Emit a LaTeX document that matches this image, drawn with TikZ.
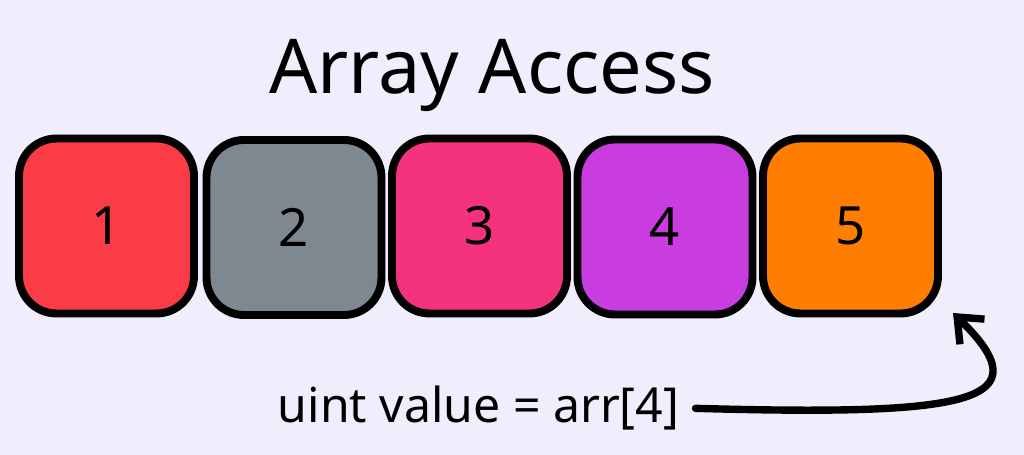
\documentclass[tikz,border=0pt]{standalone}
\usepackage{fontspec}
\setmainfont{Noto Sans}
\usetikzlibrary{positioning,arrows.meta}

\definecolor{bgpaper}{HTML}{F0EEFC}
\definecolor{cellred}{HTML}{F93C46}
\definecolor{cellgray}{HTML}{7E8891}
\definecolor{cellpink}{HTML}{F5327E}
\definecolor{cellpurple}{HTML}{C83CE0}
\definecolor{cellorange}{HTML}{FF7D00}

\begin{document}
\begin{tikzpicture}[
  cell/.style={draw=black, line width=4.5pt, rounded corners=0.75cm, minimum width=3.5cm, minimum height=3.5cm, font=\fontsize{30}{36}\selectfont, inner sep=0pt},
  title/.style={font=\fontsize{43}{50}\selectfont, inner sep=0pt},
  codetxt/.style={font=\fontsize{27.4}{32}\selectfont, inner sep=2pt},
  sketcharrow/.style={draw=black, line cap=round, line join=round, -{Straight Barb[length=12pt,width=20pt]}}
]
\fill[bgpaper] (0,0) rectangle (20.48,9.1);
\useasboundingbox (0,0) rectangle (20.48,9.1);

\node[title] (ttl) at (9.84, 7.60) {Array Access};

\node[cell, fill=cellred] (cell1) at (2.13, 4.58) {1};
\node[cell, fill=cellgray] (cell2) at (5.88, 4.55) {2};
\node[cell, fill=cellpink] (cell3) at (9.59, 4.58) {3};
\node[cell, fill=cellpurple] (cell4) at (13.30, 4.56) {4};
\node[cell, fill=cellorange] (cell5) at (17.01, 4.58) {5};

\node[codetxt] (code) at (9.57, 0.94) {uint value = arr[4]};
\coordinate (tip) at (19.06, 2.84);

\draw[sketcharrow, line width=4.2pt, shorten <=0.25cm] (code.east) .. controls (19.4,0.78) and (20.9,1.05) .. (tip);

\end{tikzpicture}
\end{document}
